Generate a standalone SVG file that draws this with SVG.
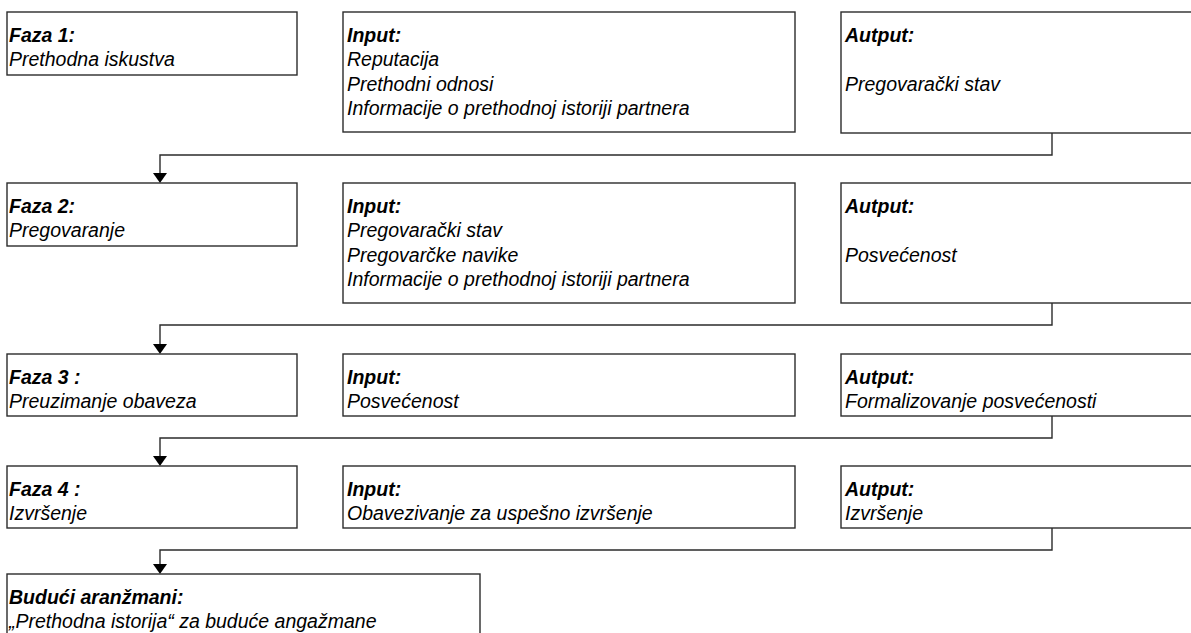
<svg xmlns="http://www.w3.org/2000/svg" width="1191" height="633" viewBox="0 0 1191 633">
<style>
.box{fill:#fff;stroke:#2b2b2b;stroke-width:1.4}
.t{font-family:"Liberation Sans",Arial,sans-serif;font-style:italic;font-size:19.5px;fill:#000}
.h{font-weight:bold}
.c{fill:none;stroke:#2b2b2b;stroke-width:1.4}
.a{fill:#000}
</style>
<rect width="1191" height="633" fill="#fff"/>

<g id="connectors">
<path class="c" d="M1052,133 V155 H160 V173"/>
<path class="a" d="M153,173 L167,173 L160,183 Z"/>
<path class="c" d="M1052,303 V325 H160 V344"/>
<path class="a" d="M153,344 L167,344 L160,354 Z"/>
<path class="c" d="M1052,416 V438 H160 V456"/>
<path class="a" d="M153,456 L167,456 L160,466 Z"/>
<path class="c" d="M1052,528 V550 H160 V564"/>
<path class="a" d="M153,564 L167,564 L160,574 Z"/>
</g>

<g id="faza1"><rect class="box" x="7" y="12" width="290" height="63"/>
<text class="t h" x="9" y="42">Faza 1:</text><text class="t" x="9" y="66">Prethodna iskustva</text></g>
<g id="input1"><rect class="box" x="343" y="12" width="452" height="120"/>
<text class="t h" x="347" y="42">Input:</text><text class="t" x="347" y="66">Reputacija</text><text class="t" x="347" y="91">Prethodni odnosi</text><text class="t" x="347" y="115">Informacije o prethodnoj istoriji partnera</text></g>
<g id="autput1"><rect class="box" x="841" y="12" width="400" height="121"/>
<text class="t h" x="845" y="42">Autput:</text><text class="t" x="845" y="91">Pregovarački stav</text></g>

<g id="faza2"><rect class="box" x="7" y="183" width="290" height="63"/>
<text class="t h" x="9" y="213">Faza 2:</text><text class="t" x="9" y="237">Pregovaranje</text></g>
<g id="input2"><rect class="box" x="343" y="183" width="452" height="120"/>
<text class="t h" x="347" y="213">Input:</text><text class="t" x="347" y="237">Pregovarački stav</text><text class="t" x="347" y="262">Pregovarčke navike</text><text class="t" x="347" y="286">Informacije o prethodnoj istoriji partnera</text></g>
<g id="autput2"><rect class="box" x="841" y="183" width="400" height="120"/>
<text class="t h" x="845" y="213">Autput:</text><text class="t" x="845" y="262">Posvećenost</text></g>

<g id="faza3"><rect class="box" x="7" y="354" width="290" height="62"/>
<text class="t h" x="9" y="384">Faza 3 :</text><text class="t" x="9" y="408">Preuzimanje obaveza</text></g>
<g id="input3"><rect class="box" x="343" y="354" width="452" height="62"/>
<text class="t h" x="347" y="384">Input:</text><text class="t" x="347" y="408">Posvećenost</text></g>
<g id="autput3"><rect class="box" x="841" y="354" width="400" height="62"/>
<text class="t h" x="845" y="384">Autput:</text><text class="t" x="845" y="408">Formalizovanje posvećenosti</text></g>

<g id="faza4"><rect class="box" x="7" y="466" width="290" height="62"/>
<text class="t h" x="9" y="496">Faza 4 :</text><text class="t" x="9" y="520">Izvršenje</text></g>
<g id="input4"><rect class="box" x="343" y="466" width="452" height="62"/>
<text class="t h" x="347" y="496">Input:</text><text class="t" x="347" y="520">Obavezivanje za uspešno izvršenje</text></g>
<g id="autput4"><rect class="box" x="841" y="466" width="400" height="62"/>
<text class="t h" x="845" y="496">Autput:</text><text class="t" x="845" y="520">Izvršenje</text></g>

<g id="buduci"><rect class="box" x="7" y="574" width="473" height="80"/>
<text class="t h" x="9" y="604">Budući aranžmani:</text><text class="t" x="9" y="628">„Prethodna istorija“ za buduće angažmane</text></g>
</svg>
